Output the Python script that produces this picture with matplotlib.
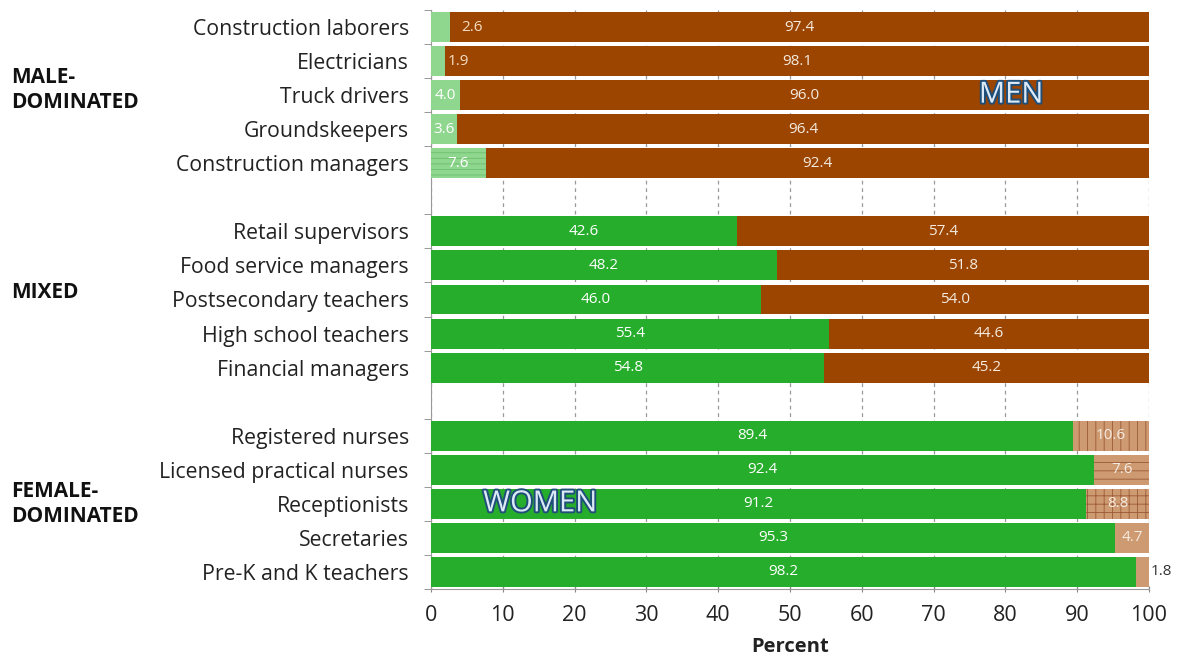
import matplotlib
matplotlib.use("Agg")
import matplotlib.pyplot as plt
import matplotlib.patheffects as pe
from matplotlib.transforms import blended_transform_factory

plt.rcParams['font.family'] = ['Open Sans', 'DejaVu Sans']
plt.rcParams['hatch.linewidth'] = 0.6

occupations = ["Construction laborers", "Electricians", "Truck drivers", "Groundskeepers",
               "Construction managers",
               "Retail supervisors", "Food service managers", "Postsecondary teachers",
               "High school teachers", "Financial managers",
               "Registered nurses", "Licensed practical nurses", "Receptionists",
               "Secretaries", "Pre-K and K teachers"]
group_of = [0, 0, 0, 0, 0, 1, 1, 1, 1, 1, 2, 2, 2, 2, 2]
group_names = ["MALE-\nDOMINATED", "MIXED", "FEMALE-\nDOMINATED"]
women = [2.6, 1.9, 4.0, 3.6, 7.6, 42.6, 48.2, 46.0, 55.4, 54.8, 89.4, 92.4, 91.2, 95.3, 98.2]
men = [97.4, 98.1, 96.0, 96.4, 92.4, 57.4, 51.8, 54.0, 44.6, 45.2, 10.6, 7.6, 8.8, 4.7, 1.8]
women_hatch = ["", "", "", "", "---", "", "", "", "", "", "", "", "", "", ""]
men_hatch = ["", "", "", "", "", "", "", "", "", "", "||", "--", "++", "", ""]
xticks = [0, 10, 20, 30, 40, 50, 60, 70, 80, 90, 100]

light_green = "#8fd68f"
green = "#27ad2c"
brown = "#9b4500"
tan = "#cd9a72"

fig = plt.figure(figsize=(11.78, 6.64), dpi=100)
ax = fig.add_axes([431/1178, 1-589/664, (1149-431)/1178, 579/664])

pos = []
slot = 0
prev_g = 0
for i, g in enumerate(group_of):
    if g != prev_g:
        slot += 1
        prev_g = g
    pos.append(slot)
    slot += 1

small_offsets = {0: 1.6, 1: 0.4}
h = 0.88
vfs = 11
for i, y in enumerate(pos):
    g = group_of[i]
    wc = light_green if g == 0 else green
    mc = brown if g < 2 else tan
    wh = women_hatch[i]
    mh = men_hatch[i]
    ax.barh(y, women[i], height=h, color=wc, edgecolor="#6cbf6c" if wh else wc,
            linewidth=0, hatch=wh or None, zorder=3)
    ax.barh(y, men[i], left=women[i], height=h, color=mc,
            edgecolor="#9a5a35" if mh else mc, linewidth=0, hatch=mh or None, zorder=3)
    if women[i] >= 3.5:
        ax.text(women[i]/2, y, f"{women[i]:.1f}", ha="center", va="center",
                color="white", fontsize=vfs, zorder=5)
    else:
        ax.text(women[i] + small_offsets.get(i, 0.4), y, f"{women[i]:.1f}", ha="left",
                va="center", color="#f3dcc4", fontsize=vfs, zorder=5)
    if men[i] >= 3:
        ax.text(women[i] + men[i]/2, y, f"{men[i]:.1f}", ha="center", va="center",
                color="#f5ebe0", fontsize=vfs, zorder=5)
    else:
        ax.text(100.3, y, f"{men[i]:.1f}", ha="left", va="center",
                color="#333333", fontsize=vfs, zorder=5)

ax.set_xlim(0, 100)
ax.set_ylim(16.5, -0.5)
ax.set_yticks(pos)
ax.set_yticklabels(occupations, fontsize=15.3, color="#222222")
ax.tick_params(axis="y", length=0, pad=16)
ax.set_yticks([p - 0.5 for p in pos] + [16.5], minor=True)
ax.tick_params(axis="y", which="minor", length=5, color="#888888", direction="out")
ax.set_xticks(xticks)
ax.set_xticklabels([str(t) for t in xticks], fontsize=15.5, color="#222222")
ax.tick_params(axis="x", length=5, color="#888888", direction="inout", pad=9)
ax.set_xlabel("Percent", fontsize=14.5, fontweight="bold", color="#222222", labelpad=8)
ax.grid(axis="x", linestyle=(0, (3, 3)), color="#999999", linewidth=0.9, zorder=0)
ax.set_axisbelow(True)
for s in ["top", "right"]:
    ax.spines[s].set_visible(False)
for s in ["left", "bottom"]:
    ax.spines[s].set_color("#999999")

tr = blended_transform_factory(fig.transFigure, ax.transData)
group_y = [1.85, 7.8, 14.0]
for name, gy in zip(group_names, group_y):
    fig.text(11/1178, gy, name, transform=tr, ha="left", va="center",
             fontsize=15, fontweight="bold", color="#111111", linespacing=1.25)

fx = [pe.withStroke(linewidth=2.8, foreground="#1f4e79")]
ax.text(80.8, 2, "MEN", ha="center", va="center", fontsize=21, color="#dce9f7",
        path_effects=fx, zorder=6)
ax.text(15.2, 14, "WOMEN", ha="center", va="center", fontsize=21, color="#dce9f7",
        path_effects=fx, zorder=6)

fig.savefig("out.png", dpi=100)
